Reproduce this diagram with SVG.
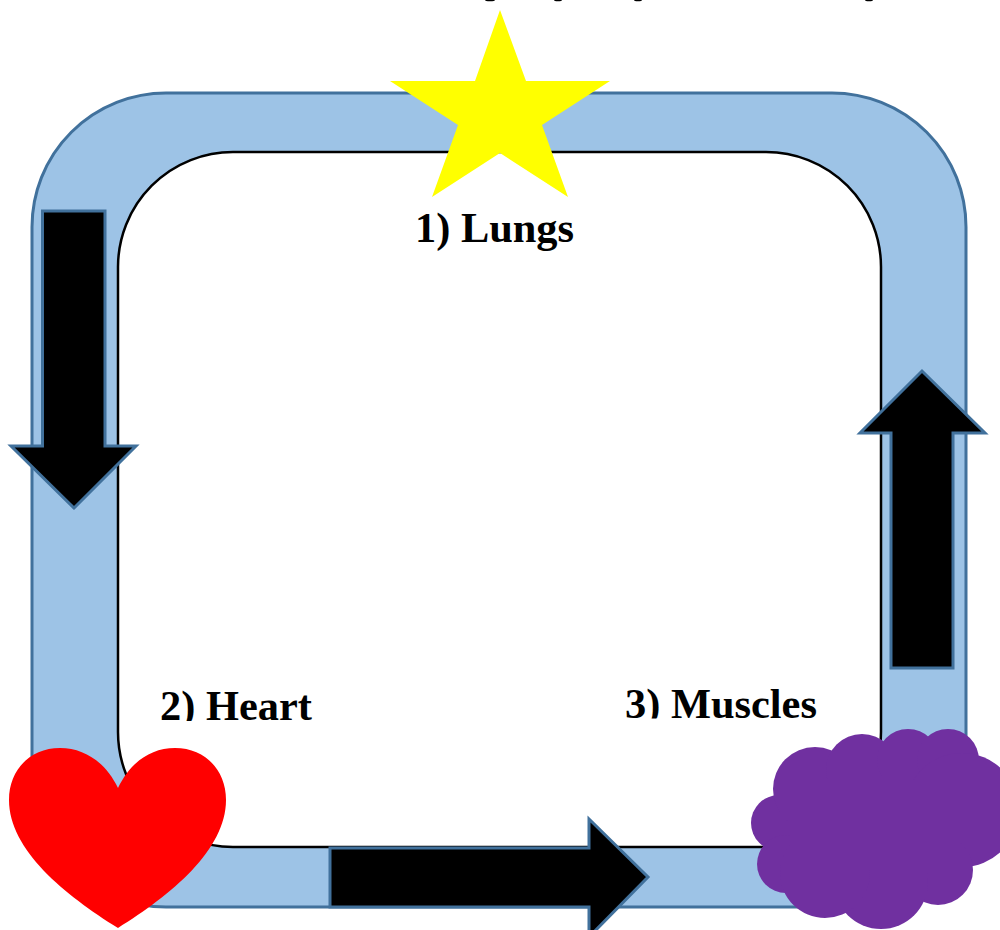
<svg xmlns="http://www.w3.org/2000/svg" width="1000" height="930" viewBox="0 0 1000 930">
  <style>
    .arrow { fill: #000000; stroke: #41719c; stroke-width: 3; stroke-linejoin: miter; }
    .label { font-family: "Liberation Serif", "Times New Roman", serif; font-size: 42.400px; font-weight: bold; fill: #000000; }
    .cloud { fill: #7030a0; }
  </style>
  <defs>
    <clipPath id="clipHeart"><rect x="150" y="680" width="180" height="41"/></clipPath>
    <clipPath id="clipMuscles"><rect x="615" y="680" width="215" height="38.500"/></clipPath>
  </defs>
  <rect width="1000" height="930" fill="#ffffff"/>
  <g id="top-fragments" fill="#000000">
    <ellipse cx="490" cy="0" rx="5" ry="1.300"/>
    <ellipse cx="558" cy="0" rx="4" ry="1.300"/>
    <ellipse cx="638" cy="0" rx="4" ry="1.300"/>
    <ellipse cx="869" cy="0" rx="4" ry="1.300"/>
  </g>
  <g id="loop">
    <rect x="32" y="93" width="934" height="814" rx="134" ry="134" fill="#9dc3e6" stroke="#41719c" stroke-width="3"/>
    <rect x="118" y="152" width="763" height="695" rx="115" ry="115" fill="#ffffff" stroke="#000000" stroke-width="2.500"/>
  </g>
  <g id="connectors">
    <path id="arrow-down" class="arrow" d="M42.500 211H105V446H136L74 508L11 446H42.500Z"/>
    <path id="arrow-up" class="arrow" d="M891 668V433H860L922 371L985 433H953V668Z"/>
    <path id="arrow-right" class="arrow" d="M330 848H589V819L648 877L589 937V907H330Z"/>
  </g>
  <g id="lungs">
    <polygon points="500,10 526,81 610,81 542,125 568,197 500,153 432,197 458,125 390,81 475,81" fill="#ffff00"/>
    <text class="label" x="415" y="242">1) Lungs</text>
  </g>
  <g id="heart">
    <text class="label" x="160" y="720" clip-path="url(#clipHeart)">2) Heart</text>
    <path d="M118 788C106 763 85 748 60 748C30 748 9 770 9 800C9 850 65 895 118 928C171 895 226 850 226 800C226 770 205 748 175 748C150 748 130 763 118 788Z" fill="#ff0000"/>
  </g>
  <g id="muscles">
    <text class="label" x="625" y="718" clip-path="url(#clipMuscles)">3) Muscles</text>
    <g class="cloud">
      <circle cx="779" cy="823" r="28"/>
      <circle cx="786" cy="864" r="29"/>
      <circle cx="815" cy="789" r="42"/>
      <circle cx="862" cy="770" r="36"/>
      <circle cx="908" cy="760" r="31"/>
      <circle cx="948" cy="760" r="31"/>
      <circle cx="962" cy="810" r="57"/>
      <circle cx="938" cy="870" r="35"/>
      <circle cx="881" cy="882" r="47"/>
      <circle cx="825" cy="873" r="45"/>
      <rect x="790" y="780" width="170" height="90"/>
    </g>
  </g>
</svg>
